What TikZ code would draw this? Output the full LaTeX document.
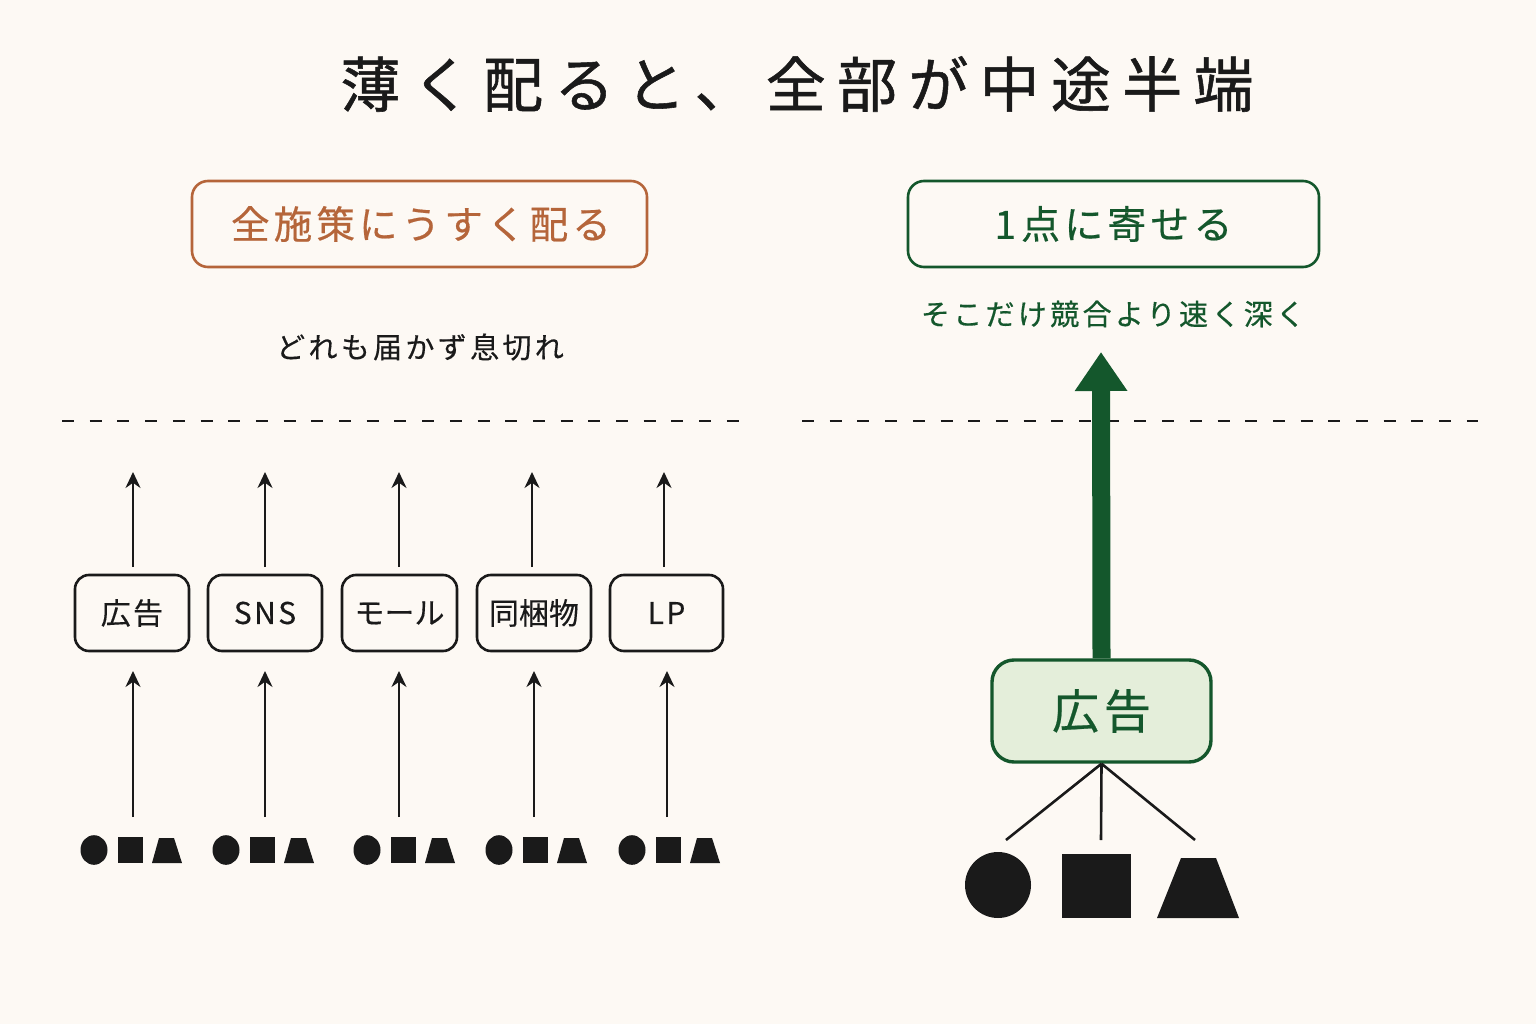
\documentclass[tikz,border=0pt]{standalone}
\usepackage{fontspec}
\usetikzlibrary{arrows.meta}
\setmainfont{Noto Sans CJK JP}
\newfontfamily\jpA[LetterSpace=18.8,FakeBold=0.9]{Noto Sans CJK JP}
\newfontfamily\jpB[LetterSpace=10.5,FakeBold=0.5]{Noto Sans CJK JP}
\newfontfamily\jpC[LetterSpace=11.5,FakeBold=0.4]{Noto Sans CJK JP}
\newfontfamily\jpD[LetterSpace=8,FakeBold=0.3]{Noto Sans CJK JP}
\newfontfamily\jpE[FakeBold=0.3]{Noto Sans CJK JP}
\definecolor{bgc}{HTML}{FDF9F4}
\definecolor{ink}{HTML}{1A1A1A}
\definecolor{rust}{HTML}{B5653A}
\definecolor{pine}{HTML}{14572C}
\definecolor{mint}{HTML}{E4EEDA}
\tikzset{
  x=1pt,y=-1pt,
  thinbox/.style={draw=ink,line width=2.6pt,rounded corners=14pt,minimum width=114pt,minimum height=76pt,inner sep=0pt,anchor=center,text=ink},
  headbox/.style={line width=2.6pt,rounded corners=16pt,minimum height=86pt,inner sep=0pt,anchor=center},
  arr/.style={draw=ink,line width=2.4pt,-{Stealth[length=16pt,width=15pt]}},
  dashline/.style={draw=ink,line width=2.6pt,dash pattern=on 12pt off 15.7pt},
  solidshape/.style={fill=ink,draw=none},
  txt/.style={inner sep=0pt,anchor=center},
}
\begin{document}
\begin{tikzpicture}
\useasboundingbox (0,0) rectangle (1536,1024);
\fill[bgc] (0,0) rectangle (1536,1024);

\node[txt,text=ink] (title) at (797,84) {\fontsize{60pt}{60pt}\jpA 薄く配ると、全部が中途半端};

\node[headbox,draw=rust,text=rust,minimum width=455pt] (lefthead) at (419.5,224) {\raisebox{-1.5pt}{\hspace{3pt}\fontsize{38.6pt}{39pt}\jpB 全施策にうすく配る}};
\node[headbox,draw=pine,text=pine,minimum width=411pt] (righthead) at (1113.5,224) {\raisebox{-1.5pt}{\fontsize{39pt}{39pt}\jpB 1\hspace{5pt}点に寄せる}};
\node[txt,text=ink] (leftsub) at (420,347) {\fontsize{29pt}{29pt}\jpC どれも届かず息切れ};
\node[txt,text=pine] (rightsub) at (1113,314) {\fontsize{29pt}{29pt}\jpC そこだけ競合より速く深く};

\coordinate (dl1) at (62,421); \coordinate (dl2) at (740,421);
\coordinate (dr1) at (802,421); \coordinate (dr2) at (1478,421);
\draw[dashline] (dl1) -- (dl2);
\draw[dashline] (dr1) -- (dr2);

% left column boxes
\node[thinbox,minimum width=114pt] (b1) at (132,613) {\fontsize{30pt}{30pt}\jpD 広告};
\node[thinbox,minimum width=114pt] (b2) at (265,613) {\fontsize{30pt}{30pt}\jpD SNS};
\node[thinbox,minimum width=115pt] (b3) at (399.5,613) {\fontsize{30pt}{30pt}\jpE モール};
\node[thinbox,minimum width=114pt] (b4) at (534,613) {\fontsize{30pt}{30pt}\jpE 同梱物};
\node[thinbox,minimum width=113pt] (b5) at (666.5,613) {\fontsize{30pt}{30pt}\jpD LP};

% arrows
\foreach \n/\xa/\xb in {1/133/133,2/265/265,3/399/399,4/534/532,5/667/664}{
  \coordinate (low\n) at (\xa,817);
  \coordinate (lowtip\n) at (\xa,671);
  \coordinate (upbase\n) at (\xb,567);
  \coordinate (uptip\n) at (\xb,472);
  \draw[arr] (low\n) -- (lowtip\n);
  \draw[arr] (upbase\n) -- (uptip\n);
}

% small shape groups
\foreach \n/\d in {1/0,2/132,3/273,4/405,5/538}{
  \begin{scope}[xshift=\d pt]
    \fill[solidshape] (94,850) ellipse [x radius=13.5,y radius=14.8];
    \fill[solidshape] (118,837) rectangle (143,863);
    \fill[solidshape] (159,838) -- (174,838) -- (182,863) -- (152,863) -- cycle;
  \end{scope}
}

% right side
\node[draw=pine,fill=mint,text=pine,line width=3.4pt,rounded corners=22pt,minimum width=219pt,minimum height=102pt,inner sep=0pt] (ad) at (1101.5,711) {\raisebox{-1pt}{\fontsize{47pt}{47pt}\jpB 広告}};
\coordinate (bigtip) at (1101,352);
\draw[draw=pine,line width=18pt,-{Triangle[length=39pt,width=50pt]}] (ad.north) -- (bigtip);
\coordinate (t1) at (1006,840); \coordinate (t2) at (1101,840); \coordinate (t3) at (1195,840);
\draw[ink,line width=2.6pt] (ad.south) -- (t1);
\draw[ink,line width=2.6pt] (ad.south) -- (t2);
\draw[ink,line width=2.6pt] (ad.south) -- (t3);
\fill[solidshape] (998,885) circle [radius=33];
\fill[solidshape] (1062,854) rectangle (1131,918);
\fill[solidshape] (1181,858) -- (1216,858) -- (1239,918) -- (1157,918) -- cycle;
\end{tikzpicture}
\end{document}
